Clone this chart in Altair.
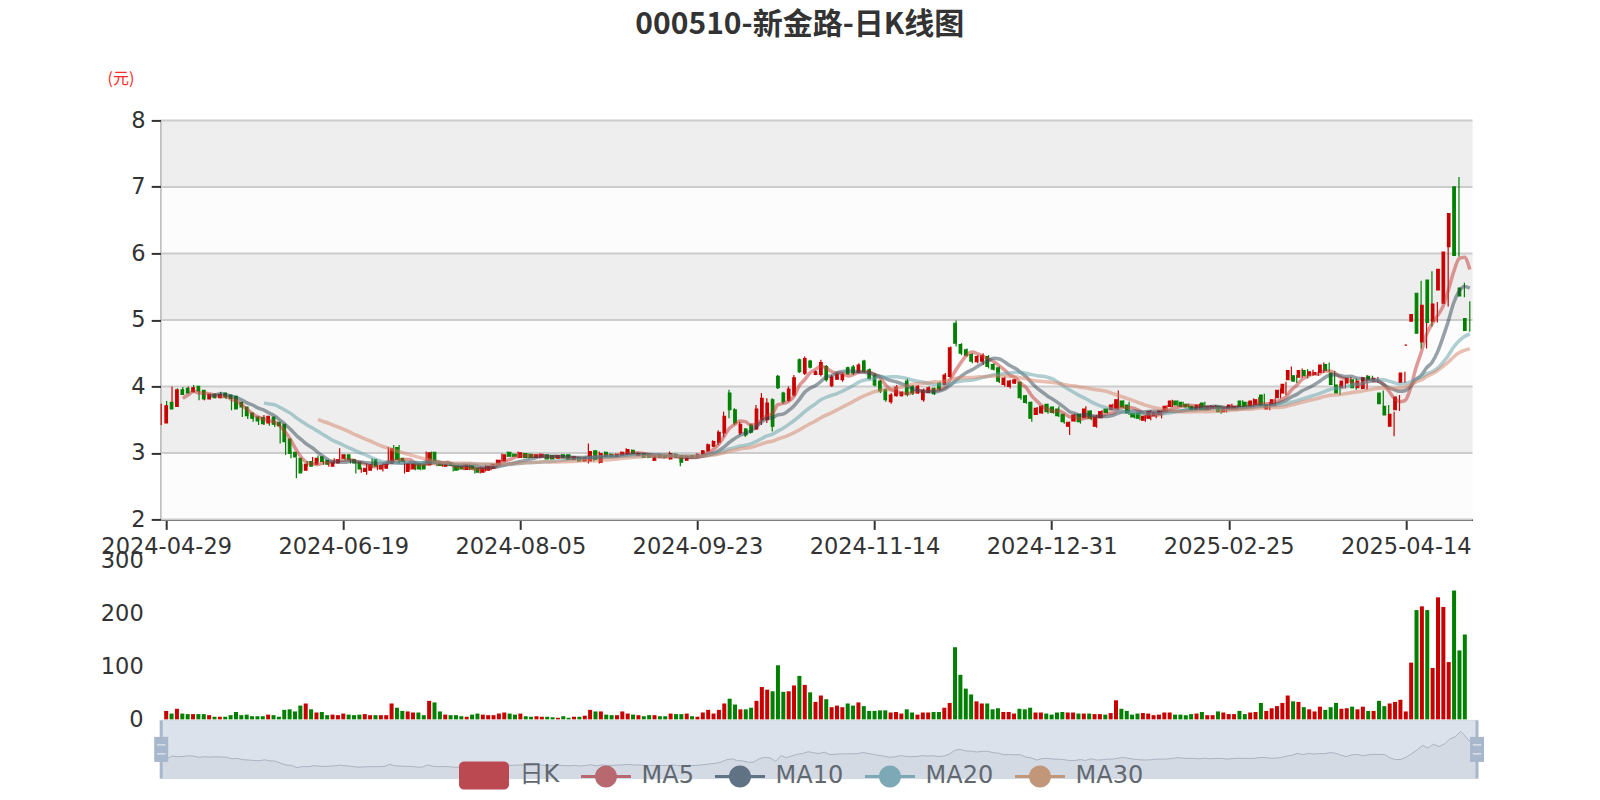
import json
import numpy as np
import pandas as pd
import altair as alt

FONT = "Noto Sans CJK SC"
LFONT = "DejaVu Sans, Noto Sans CJK SC"
title_text = "000510-新金路-日K线图"
unit_label = "(元)"

# category labels shown on the x axis (every 33rd trading day)
x_labels = ["2024-04-29", "2024-06-19", "2024-08-05", "2024-09-23",
            "2024-11-14", "2024-12-31", "2025-02-25", "2025-04-14"]
label_step = 33

open_ = [
    3.45, 3.76, 3.70, 3.95, 3.97, 3.92, 4.00, 3.94, 3.81, 3.88,
    3.83, 3.90, 3.87, 3.85, 3.76, 3.69, 3.60, 3.54, 3.53, 3.45,
    3.54, 3.46, 3.43, 3.21, 3.01, 2.92, 2.74, 2.87, 2.83, 2.94,
    2.89, 2.80, 2.85, 2.92, 2.97, 2.90, 2.86, 2.72, 2.74, 2.90,
    2.76, 2.77, 2.84, 3.08, 2.92, 2.72, 2.76, 2.84, 2.83, 2.82,
    3.01, 2.86, 2.80, 2.85, 2.81, 2.80, 2.75, 2.81, 2.77, 2.71,
    2.74, 2.77, 2.81, 2.88, 3.01, 2.98, 2.93, 2.99, 2.98, 2.93,
    2.94, 2.97, 2.96, 2.92, 2.97, 2.97, 2.90, 2.93, 2.88, 2.88,
    3.03, 2.86, 3.01, 2.98, 2.95, 2.97, 2.98, 3.04, 2.96, 2.99,
    2.97, 2.89, 2.97, 2.96, 2.91, 2.98, 2.96, 2.89, 2.96, 2.94,
    2.98, 3.03, 3.10, 3.16, 3.30, 3.90, 3.65, 3.30, 3.36, 3.42,
    3.36, 3.50, 3.50, 3.80, 4.15, 3.90, 3.79, 3.87, 4.40, 4.20,
    4.38, 4.18, 4.18, 4.30, 4.01, 4.11, 4.10, 4.28, 4.29, 4.21,
    4.38, 4.25, 4.16, 4.08, 3.95, 3.77, 3.86, 3.86, 4.08, 4.00,
    3.90, 3.80, 3.91, 3.97, 4.05, 4.03, 4.15, 4.95, 4.63, 4.55,
    4.48, 4.37, 4.38, 4.45, 4.33, 4.28, 4.03, 4.00, 4.05, 4.06,
    3.86, 3.76, 3.58, 3.60, 3.73, 3.69, 3.66, 3.58, 3.40, 3.48,
    3.58, 3.53, 3.63, 3.40, 3.53, 3.66, 3.65, 3.66, 3.78, 3.72,
    3.59, 3.60, 3.49, 3.52, 3.56, 3.58, 3.63, 3.70, 3.78, 3.76,
    3.73, 3.70, 3.65, 3.75, 3.65, 3.67, 3.70, 3.62, 3.66, 3.66,
    3.78, 3.76, 3.70, 3.72, 3.87, 3.66, 3.72, 3.83, 3.90, 4.10,
    4.16, 4.14, 4.24, 4.17, 4.18, 4.21, 4.33, 4.20, 4.02, 3.98,
    4.05, 4.10, 3.98, 3.97, 4.15, 4.07, 3.90, 3.70, 3.40, 3.65,
    4.06, 4.62, 4.98, 5.40, 4.67, 5.60, 4.98, 5.45, 5.25, 6.10,
    7.00, 5.48, 5.02,
]
high_ = [
    3.74, 3.78, 4.00, 3.97, 3.99, 4.00, 4.02, 3.95, 3.90, 3.89,
    3.89, 3.92, 3.89, 3.87, 3.77, 3.70, 3.62, 3.55, 3.55, 3.57,
    3.55, 3.47, 3.44, 3.22, 3.02, 2.93, 2.84, 2.88, 2.94, 2.96,
    2.90, 2.87, 2.92, 3.07, 2.98, 2.91, 2.87, 2.78, 2.84, 2.92,
    2.82, 2.84, 3.09, 3.12, 3.12, 2.89, 2.87, 2.85, 2.84, 3.02,
    3.02, 2.87, 2.84, 2.87, 2.82, 2.82, 2.84, 2.82, 2.79, 2.79,
    2.82, 2.84, 2.90, 2.99, 3.02, 2.99, 3.02, 3.00, 2.99, 2.98,
    2.99, 2.98, 2.97, 2.97, 2.98, 2.98, 2.95, 2.94, 2.94, 3.14,
    3.04, 3.02, 3.02, 2.99, 2.99, 3.02, 3.07, 3.05, 3.00, 3.00,
    2.98, 2.97, 2.98, 2.97, 3.02, 2.99, 2.97, 2.97, 2.97, 2.99,
    3.04, 3.14, 3.19, 3.34, 3.62, 3.95, 3.67, 3.47, 3.37, 3.44,
    3.72, 3.90, 3.82, 3.82, 4.17, 3.92, 4.00, 4.17, 4.42, 4.45,
    4.40, 4.24, 4.40, 4.32, 4.17, 4.20, 4.20, 4.30, 4.32, 4.35,
    4.40, 4.27, 4.20, 4.10, 3.97, 3.90, 4.02, 3.92, 4.12, 4.02,
    4.02, 3.97, 4.00, 3.98, 4.07, 4.20, 4.60, 4.99, 4.65, 4.57,
    4.50, 4.47, 4.50, 4.47, 4.35, 4.30, 4.15, 4.10, 4.11, 4.07,
    3.87, 3.77, 3.69, 3.72, 3.74, 3.70, 3.70, 3.59, 3.47, 3.59,
    3.59, 3.70, 3.64, 3.57, 3.64, 3.67, 3.74, 3.94, 3.79, 3.77,
    3.60, 3.62, 3.57, 3.64, 3.62, 3.64, 3.72, 3.80, 3.79, 3.77,
    3.74, 3.70, 3.74, 3.77, 3.72, 3.72, 3.71, 3.70, 3.74, 3.72,
    3.79, 3.77, 3.82, 3.84, 3.89, 3.76, 3.82, 3.97, 4.07, 4.30,
    4.17, 4.27, 4.26, 4.25, 4.23, 4.36, 4.36, 4.23, 4.04, 4.12,
    4.14, 4.12, 4.10, 4.17, 4.16, 4.14, 3.94, 3.72, 3.62, 3.87,
    4.22, 4.62, 5.10, 5.59, 5.30, 5.73, 5.27, 5.95, 6.27, 6.63,
    7.15, 5.56, 5.28,
]
low_ = [
    3.42, 3.64, 3.68, 3.86, 3.88, 3.91, 3.91, 3.79, 3.79, 3.82,
    3.82, 3.82, 3.81, 3.64, 3.67, 3.54, 3.51, 3.47, 3.42, 3.42,
    3.41, 3.39, 3.14, 2.97, 2.92, 2.62, 2.72, 2.79, 2.82, 2.86,
    2.82, 2.79, 2.84, 2.91, 2.89, 2.84, 2.69, 2.70, 2.67, 2.77,
    2.74, 2.72, 2.82, 2.86, 2.84, 2.69, 2.74, 2.74, 2.74, 2.81,
    2.82, 2.80, 2.79, 2.80, 2.72, 2.74, 2.74, 2.74, 2.69, 2.69,
    2.72, 2.74, 2.79, 2.87, 2.94, 2.94, 2.92, 2.92, 2.92, 2.92,
    2.92, 2.90, 2.90, 2.92, 2.92, 2.89, 2.89, 2.87, 2.87, 2.84,
    2.87, 2.84, 2.94, 2.94, 2.94, 2.96, 2.97, 2.98, 2.95, 2.92,
    2.92, 2.88, 2.92, 2.92, 2.90, 2.92, 2.80, 2.88, 2.92, 2.93,
    2.97, 3.02, 3.09, 3.12, 3.24, 3.52, 3.42, 3.27, 3.24, 3.29,
    3.35, 3.42, 3.45, 3.32, 3.96, 3.74, 3.77, 3.85, 4.20, 4.17,
    4.27, 4.17, 4.15, 4.07, 3.99, 4.10, 4.07, 4.17, 4.17, 4.20,
    4.20, 4.10, 4.00, 3.90, 3.77, 3.74, 3.85, 3.85, 3.85, 3.87,
    3.89, 3.77, 3.90, 3.87, 3.94, 4.02, 4.12, 4.60, 4.47, 4.45,
    4.35, 4.35, 4.32, 4.27, 4.24, 4.05, 4.00, 3.97, 4.04, 3.80,
    3.74, 3.47, 3.57, 3.59, 3.59, 3.59, 3.54, 3.44, 3.27, 3.47,
    3.44, 3.52, 3.49, 3.38, 3.52, 3.59, 3.64, 3.64, 3.67, 3.57,
    3.52, 3.49, 3.47, 3.49, 3.52, 3.52, 3.62, 3.69, 3.70, 3.69,
    3.68, 3.64, 3.64, 3.63, 3.64, 3.66, 3.59, 3.61, 3.64, 3.64,
    3.67, 3.69, 3.69, 3.70, 3.68, 3.64, 3.70, 3.82, 3.87, 4.09,
    4.05, 4.13, 4.12, 4.16, 4.16, 4.20, 4.22, 4.00, 3.87, 3.97,
    4.04, 3.95, 3.97, 3.95, 4.09, 4.06, 3.70, 3.54, 3.25, 3.63,
    4.05, 4.62, 4.97, 4.57, 4.57, 4.90, 4.96, 5.42, 5.20, 6.05,
    5.95, 5.34, 4.82,
]
close_ = [
    3.71, 3.66, 3.95, 3.88, 3.90, 3.98, 3.93, 3.81, 3.88, 3.83,
    3.88, 3.84, 3.82, 3.66, 3.69, 3.56, 3.52, 3.48, 3.44, 3.55,
    3.43, 3.41, 3.17, 2.99, 2.94, 2.70, 2.83, 2.80, 2.92, 2.87,
    2.83, 2.86, 2.90, 2.97, 2.90, 2.85, 2.76, 2.77, 2.82, 2.80,
    2.81, 2.83, 3.06, 2.90, 2.87, 2.84, 2.84, 2.76, 2.76, 3.00,
    2.85, 2.81, 2.83, 2.81, 2.74, 2.76, 2.82, 2.76, 2.71, 2.77,
    2.80, 2.83, 2.89, 2.97, 2.95, 2.95, 3.00, 2.93, 2.93, 2.97,
    2.98, 2.91, 2.91, 2.96, 2.93, 2.90, 2.94, 2.88, 2.93, 3.02,
    2.90, 2.99, 2.95, 2.95, 2.98, 3.01, 3.05, 2.99, 2.99, 2.93,
    2.93, 2.95, 2.93, 2.93, 2.99, 2.93, 2.86, 2.95, 2.93, 2.98,
    3.03, 3.12, 3.17, 3.31, 3.55, 3.65, 3.45, 3.43, 3.27, 3.31,
    3.66, 3.82, 3.75, 3.40, 3.98, 3.77, 3.96, 4.13, 4.22, 4.42,
    4.29, 4.22, 4.36, 4.10, 4.14, 4.18, 4.18, 4.19, 4.20, 4.32,
    4.23, 4.12, 4.02, 3.93, 3.80, 3.87, 3.99, 3.91, 3.88, 3.90,
    4.00, 3.94, 3.98, 3.89, 3.96, 4.17, 4.58, 4.65, 4.50, 4.47,
    4.38, 4.45, 4.46, 4.30, 4.26, 4.08, 4.12, 4.08, 4.10, 3.83,
    3.76, 3.52, 3.67, 3.70, 3.62, 3.61, 3.56, 3.47, 3.46, 3.57,
    3.47, 3.66, 3.52, 3.54, 3.62, 3.61, 3.72, 3.80, 3.69, 3.60,
    3.54, 3.52, 3.55, 3.62, 3.61, 3.63, 3.70, 3.78, 3.72, 3.70,
    3.69, 3.65, 3.72, 3.65, 3.70, 3.70, 3.62, 3.68, 3.72, 3.70,
    3.69, 3.70, 3.78, 3.80, 3.71, 3.72, 3.80, 3.94, 4.03, 4.24,
    4.08, 4.24, 4.16, 4.22, 4.21, 4.32, 4.24, 4.03, 3.90, 4.08,
    4.12, 3.98, 4.08, 4.13, 4.11, 4.12, 3.74, 3.57, 3.58, 3.84,
    4.20, 4.62, 5.08, 4.80, 5.22, 4.96, 5.24, 5.76, 6.02, 6.60,
    5.97, 5.36, 4.84,
]
volume = [
    16, 11, 20, 11, 10, 10, 10, 10, 8, 5,
    5, 5, 8, 14, 8, 9, 6, 6, 6, 9,
    8, 5, 18, 19, 15, 26, 30, 19, 13, 14,
    8, 9, 8, 11, 9, 8, 9, 10, 8, 8,
    8, 8, 30, 22, 16, 15, 13, 13, 8, 35,
    32, 15, 9, 8, 8, 6, 5, 9, 11, 9,
    8, 8, 11, 13, 11, 9, 11, 6, 5, 6,
    5, 5, 4, 3, 6, 3, 5, 5, 7, 18,
    15, 15, 9, 8, 8, 15, 11, 9, 8, 6,
    8, 8, 6, 6, 11, 10, 10, 11, 6, 5,
    13, 18, 11, 18, 30, 39, 28, 19, 19, 22,
    35, 61, 56, 53, 102, 52, 53, 64, 82, 65,
    51, 33, 45, 38, 23, 26, 23, 30, 26, 32,
    25, 16, 16, 17, 17, 13, 14, 11, 19, 13,
    9, 13, 13, 14, 14, 22, 31, 136, 84, 58,
    47, 34, 30, 30, 19, 21, 14, 14, 11, 20,
    19, 22, 13, 13, 11, 9, 13, 14, 13, 13,
    11, 11, 11, 10, 10, 9, 12, 36, 20, 16,
    9, 11, 12, 11, 8, 9, 13, 13, 9, 9,
    8, 10, 11, 14, 8, 8, 15, 13, 10, 10,
    16, 10, 13, 14, 31, 16, 21, 25, 31, 45,
    34, 33, 23, 19, 15, 24, 18, 23, 31, 20,
    21, 24, 19, 24, 16, 16, 35, 25, 30, 33,
    37, 15, 107, 206, 213, 206, 97, 230, 212, 108,
    243, 130, 160,
]

ma_windows = [5, 10, 20, 30]
ma_names = ["MA5", "MA10", "MA20", "MA30"]
ma_colors = ["#c23531", "#2f4554", "#61a0a8", "#d48265"]
legend_names = ["日K"] + ma_names
legend_colors = ["#bb4952", "#b7696f", "#5f7384", "#7da9b6", "#c29779"]
y_ticks = [2, 3, 4, 5, 6, 7, 8]
vol_ticks = [0, 100, 200, 300]

n = len(close_)
df = pd.DataFrame({"idx": np.arange(n), "open": open_, "high": high_,
                   "low": low_, "close": close_, "vol": volume})
for w, name in zip(ma_windows, ma_names):
    df[name] = df["close"].rolling(w).mean().round(4)

# ---- layout (pixels, relative to plot origin) ----
W = 1311.3
H = 659
PRICE_H = 399.0
VOL_TOP, VOL_BOT = 439.8, 599.0
SL_TOP, SL_BOT = 600.0, 658.2
SL_W = 1315.8

RED, GREEN = "#c80000", "#008000"
up = alt.condition("datum.close >= datum.open", alt.value(RED), alt.value(GREEN))

xs = alt.Scale(domain=[0, n - 0.5], range=[0, W], nice=False, zero=False)
ys = alt.Scale(domain=[y_ticks[0], y_ticks[-1]], range=[PRICE_H, 0], nice=False, zero=False)
vs = alt.Scale(domain=[vol_ticks[0], vol_ticks[-1]], range=[VOL_BOT, VOL_TOP], nice=False, zero=False)
sxs = alt.Scale(domain=[0, n - 1], range=[0, SL_W], nice=False, zero=False)
cmin, cmax = float(df["close"].min()), float(df["close"].max())
pad = 0.3 * (cmax - cmin)
shs = alt.Scale(domain=[cmin - pad, cmax + pad], range=[SL_BOT, SL_TOP], nice=False, zero=False)


def X(axis=None):
    return alt.X("idx:Q", scale=xs, axis=axis, title=None)


price_axis = alt.Axis(
    orient="left", values=y_ticks, grid=False, domain=True, domainColor="#333",
    domainWidth=2, ticks=True, tickSize=10, tickWidth=2, tickColor="#333",
    labelFont=LFONT, labelFontSize=22.5, labelColor="#333", labelPadding=6,
    labelOverlap=False, title=unit_label, titleFont=FONT, titleFontSize=16,
    titleFontWeight="normal", titleColor="#ff2a2a", titleAngle=0,
    titleAlign="center", titleBaseline="middle", titleX=-40.8, titleY=-41.8,
)
label_expr = f"{json.dumps(x_labels)}[round(datum.value / {label_step})]"
x_axis = alt.Axis(
    orient="bottom", offset=PRICE_H - H,
    values=[i * label_step for i in range(len(x_labels))], labelExpr=label_expr,
    domain=True, domainColor="#333", domainWidth=2, ticks=True, tickSize=10,
    tickWidth=2, tickColor="#333", labelFont=LFONT, labelFontSize=22.5,
    labelColor="#333", labelPadding=6, grid=False, labelFlush=False,
    labelOverlap=False, title=None,
)
vol_axis = alt.Axis(
    orient="left", values=vol_ticks, domain=False, ticks=False, grid=False,
    labelFont=LFONT, labelFontSize=22.5, labelColor="#333", labelPadding=18,
    labelOverlap=False, title=None,
)

bands = pd.DataFrame({"lo": y_ticks[:-1], "hi": y_ticks[1:]})
band_layer = alt.Chart(bands).mark_rect().encode(
    x=alt.value(0), x2=alt.value(W),
    y=alt.Y("lo:Q", scale=ys, axis=price_axis), y2="hi:Q",
    color=alt.condition("datum.lo % 2 == 1", alt.value("#eeeeee"), alt.value("#fcfcfc")),
)
grid_layer = alt.Chart(pd.DataFrame({"v": y_ticks})).mark_rule(
    color="#cccccc", strokeWidth=2).encode(
    x=alt.value(0), x2=alt.value(W), y=alt.Y("v:Q", scale=ys, axis=None))

wick = alt.Chart(df).mark_rule(strokeWidth=1.2).encode(
    x=X(), y=alt.Y("low:Q", scale=ys, axis=None), y2="high:Q", color=up)
body = alt.Chart(df).mark_bar(size=2.6, strokeWidth=1.1).encode(
    x=X(x_axis), y=alt.Y("open:Q", scale=ys, axis=None), y2="close:Q",
    color=up, stroke=up)

ma_layers = [
    alt.Chart(df).mark_line(strokeWidth=3.5, opacity=0.5, interpolate="monotone",
                            color=c).encode(
        x=X(), y=alt.Y(f"{name}:Q", scale=ys, axis=None))
    for name, c in zip(ma_names, ma_colors)
]

vol_layer = alt.Chart(df).mark_bar(size=4).encode(
    x=X(), y=alt.Y("vol:Q", scale=vs, axis=vol_axis, stack=None),
    y2=alt.datum(0), color=up)

# ---- data zoom slider ----
one = pd.DataFrame({"a": [0]})
sl_bg = alt.Chart(one).mark_rect(fill="#dce2eb", stroke="#d3d9e2", strokeWidth=1).encode(
    x=alt.value(0), x2=alt.value(SL_W), y=alt.value(SL_TOP), y2=alt.value(SL_BOT))
shadow = alt.Chart(df).mark_area(
    color="#d0d7e1", line={"color": "#a9b3c2", "strokeWidth": 1}).encode(
    x=alt.X("idx:Q", scale=sxs, axis=None),
    y=alt.Y("close:Q", scale=shs, axis=None), y2=alt.datum(cmin - pad))
handles = pd.DataFrame({"idx": [0, n - 1]})
hx = alt.X("idx:Q", scale=sxs, axis=None)
h_line = alt.Chart(handles).mark_rule(color="#a7b7cc", strokeWidth=3).encode(
    x=hx, y=alt.value(SL_TOP), y2=alt.value(SL_BOT))
h_box = alt.Chart(handles).mark_point(
    shape="M-1,-1.79H1V1.79H-1Z", size=196, filled=True, opacity=1,
    color="#a7b7cc").encode(x=hx, y=alt.value(SL_TOP + 29))
h_marks = alt.Chart(handles).mark_point(
    shape="M-0.6,-0.74H0.6V-0.54H-0.6Z M-0.6,0.54H0.6V0.74H-0.6Z", size=196,
    filled=True, opacity=1, color="#e4e9f0").encode(x=hx, y=alt.value(SL_TOP + 29))

# ---- legend ----
kline_icon = ("M-0.8,-0.56H0.8A0.2,0.2 0 0 1 1,-0.36V0.36A0.2,0.2 0 0 1 0.8,0.56"
              "H-0.8A0.2,0.2 0 0 1 -1,0.36V-0.36A0.2,0.2 0 0 1 -0.8,-0.56Z")
line_icon = ("M-1,-0.06H1V0.06H-1Z M-0.44,0A0.44,0.44 0 1 1 0.44,0"
             "A0.44,0.44 0 1 1 -0.44,0Z")
legend_shapes = [kline_icon] + [line_icon] * len(ma_names)
leg_def = alt.Legend(
    orient="none", legendX=297.8, legendY=630, direction="horizontal", title=None,
    symbolSize=2500, symbolOpacity=1, symbolStrokeWidth=0, labelFont=LFONT,
    labelFontSize=24, labelColor="#616870", labelOffset=10.5, columnPadding=21,
    padding=0, labelLimit=400,
)
leg = alt.Chart(pd.DataFrame({"name": legend_names})).mark_point(
    filled=True, opacity=0, size=4).encode(
    color=alt.Color("name:N", scale=alt.Scale(domain=legend_names, range=legend_colors),
                    legend=leg_def),
    shape=alt.Shape("name:N", scale=alt.Scale(domain=legend_names, range=legend_shapes),
                    legend=leg_def),
)

chart = alt.layer(
    band_layer, grid_layer, wick, body, *ma_layers, vol_layer,
    sl_bg, shadow, h_line, h_box, h_marks, leg,
).resolve_scale(
    x="independent", y="independent"
).properties(
    width=W, height=H,
    title=alt.TitleParams(title_text, font=FONT, fontSize=30, fontWeight="bold",
                          color="#333333", anchor="middle", frame="group",
                          dx=-17, offset=31),
    padding={"left": 153.2, "top": 112.4, "right": 119.5, "bottom": 12.6},
    autosize=alt.AutoSizeParams(type="none"),
).configure(background="white", view=alt.ViewConfig(stroke=None))

chart.save("out.html", embed_options={"renderer": "svg", "actions": False})
